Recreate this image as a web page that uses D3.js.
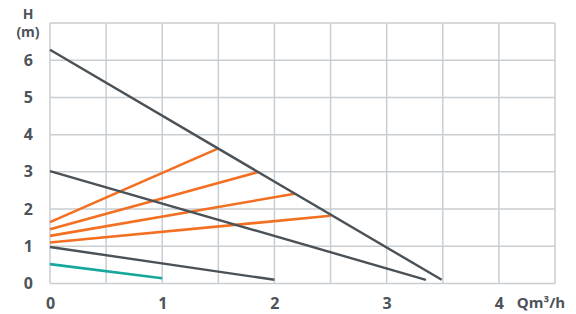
<!DOCTYPE html>
<html>
<head>
<meta charset="utf-8">
<script src="https://cdn.jsdelivr.net/npm/d3@7"></script>
<style>
  body { margin: 0; background: #fff; }
  text { font-family: "Open Sans", Lato, sans-serif; font-weight: 700; fill: #4d5358; }
</style>
</head>
<body>
<div id="chart"></div>
<script>
// Curve data (Q in m3/h, H in m)
const darkCurves = [
  [[0, 6.28], [3.49, 0.1]],
  [[0, 3.02], [3.35, 0.1]],
  [[0, 0.98], [2.0, 0.1]]
];
const orangeCurves = [
  [[0, 1.65], [1.5, 3.63]],
  [[0, 1.46], [1.85, 2.99]],
  [[0, 1.28], [2.18, 2.41]],
  [[0, 1.1], [2.5, 1.82]]
];
const tealCurve = [[0, 0.52], [1.0, 0.14]];
const xTicks = [0, 1, 2, 3, 4];
const yTicks = [0, 1, 2, 3, 4, 5, 6];

const width = 576, height = 314;
const margin = { top: 23, right: 21, bottom: 30, left: 50 };

const svg = d3.select("#chart")
  .append("svg")
  .attr("width", width)
  .attr("height", height);

const x = d3.scaleLinear().domain([0, 4.5]).range([margin.left, width - margin.right]);
const y = d3.scaleLinear().domain([0, 7]).range([height - margin.bottom - 0.5, margin.top]);

// Grid
const grid = svg.append("g").attr("stroke", "#c9ced2").attr("stroke-width", 1.5);
grid.selectAll(".v")
  .data(d3.range(0, 4.51, 0.5))
  .enter().append("line")
  .attr("x1", d => x(d)).attr("x2", d => x(d))
  .attr("y1", y(0)).attr("y2", y(7));
grid.selectAll(".h")
  .data(d3.range(0, 7.01, 1))
  .enter().append("line")
  .attr("x1", x(0)).attr("x2", x(4.5))
  .attr("y1", d => y(d)).attr("y2", d => y(d));

// Axes labels
svg.append("g")
  .attr("transform", `translate(0,${y(0)})`)
  .call(d3.axisBottom(x).tickValues(xTicks).tickFormat(d3.format("d")).tickSize(0).tickPadding(14))
  .call(g => g.select(".domain").remove())
  .selectAll("text")
  .style("font-size", "16px");

svg.append("g")
  .attr("transform", `translate(${x(0)},0)`)
  .call(d3.axisLeft(y).tickValues(yTicks).tickFormat(d3.format("d")).tickSize(0).tickPadding(17))
  .call(g => g.select(".domain").remove())
  .selectAll("text")
  .style("font-size", "16px");

svg.selectAll(".tick text").attr("fill", "#4d5358");

// Units
svg.append("text").attr("x", 28).attr("y", 19).attr("text-anchor", "middle")
  .style("font-size", "14px").text("H");
svg.append("text").attr("x", 28).attr("y", 37).attr("text-anchor", "middle")
  .style("font-size", "14px").text("(m)");
svg.append("text").attr("x", 541).attr("y", 308).attr("text-anchor", "middle")
  .style("font-size", "15px").text("Qm³/h");

// Curves
const line = d3.line().x(d => x(d[0])).y(d => y(d[1]));

svg.append("g").selectAll("path")
  .data(orangeCurves)
  .enter().append("path")
  .attr("d", line)
  .attr("fill", "none")
  .attr("stroke", "#f36f21")
  .attr("stroke-width", 2.6);

svg.append("path")
  .datum(tealCurve)
  .attr("d", line)
  .attr("fill", "none")
  .attr("stroke", "#14a89c")
  .attr("stroke-width", 2.6);

svg.append("g").selectAll("path")
  .data(darkCurves)
  .enter().append("path")
  .attr("d", line)
  .attr("fill", "none")
  .attr("stroke", "#4a5157")
  .attr("stroke-width", 2.4);
</script>
</body>
</html>
